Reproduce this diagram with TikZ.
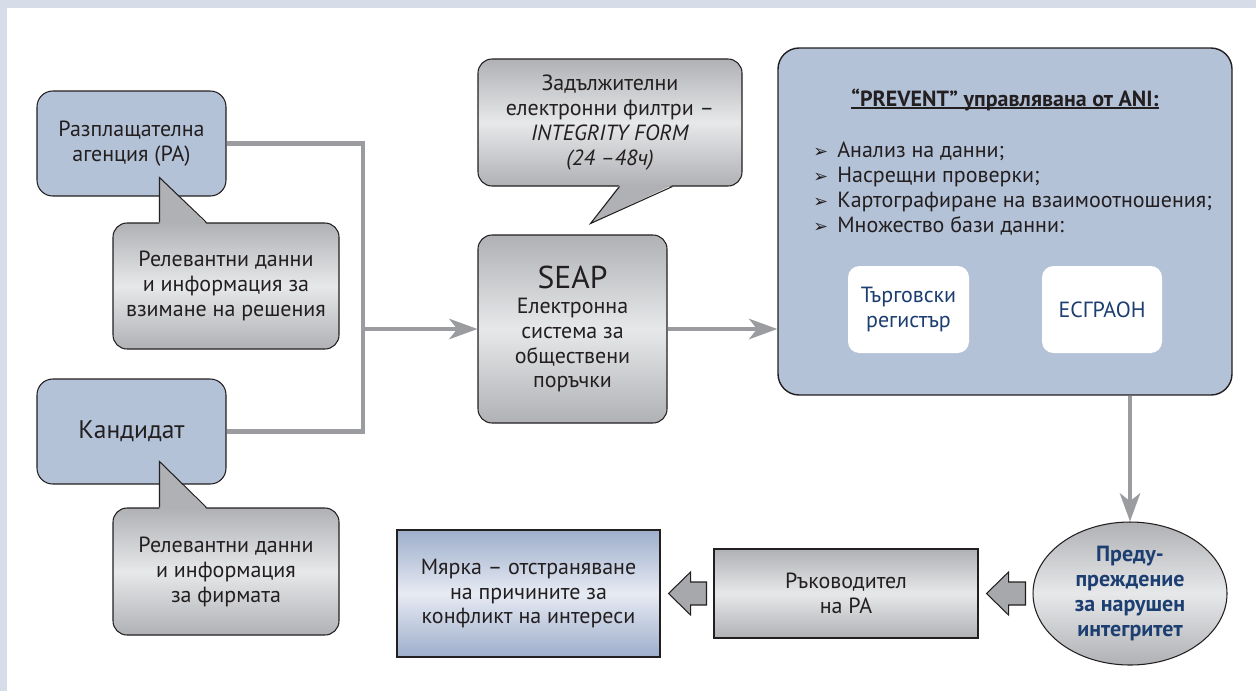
\documentclass[tikz,border=0pt]{standalone}
\usepackage{fontspec}
\setmainfont{PT Sans}
\newfontfamily\symfont{DejaVu Sans}
\usetikzlibrary{arrows.meta,calc,shapes.geometric}
\newlength\pxu
\setlength\pxu{0.02cm}
\newcommand{\fsn}{\fontsize{12.5pt}{14.2pt}\selectfont}
\newcommand{\fsg}{\fontsize{14.5pt}{17pt}\selectfont}
\newcommand{\fss}{\fontsize{18pt}{20pt}\selectfont}
\newcommand{\bul}{{\symfont\fontsize{10pt}{10pt}\selectfont ➢}}
\definecolor{rahmen}{RGB}{214,221,233}
\definecolor{rablau}{RGB}{180,194,216}
\definecolor{rand}{RGB}{35,31,32}
\definecolor{grau1}{RGB}{176,177,180}
\definecolor{grau2}{RGB}{231,232,234}
\definecolor{blau1}{RGB}{158,174,203}
\definecolor{blau2}{RGB}{230,234,243}
\definecolor{linie}{RGB}{155,156,160}
\definecolor{pfeil}{RGB}{167,168,171}
\definecolor{dunkelblau}{RGB}{28,62,112}
\tikzset{
  kasten/.style = {align=center, inner sep=0pt, text centered,
    font=\fsn, text=rand},
  kasten_b/.style = {kasten, rectangle, rounded corners=9pt, fill=rablau,
    draw=rand, line width=0.6pt},% blau, abgerundet
  kasten_g/.style = {kasten, rectangle, rounded corners=8pt, draw=rand,
    line width=0.6pt, top color=grau1, bottom color=grau1, middle color=grau2},% grau, abgerundet
  kasten_gs/.style = {kasten, rectangle, draw=rand, line width=0.6pt,
    top color=grau1, bottom color=grau1, middle color=grau2},% grau, eckig
  kasten_bs/.style = {kasten, rectangle, draw=rand, line width=0.6pt,
    top color=blau1, bottom color=blau1, middle color=blau2},% blau, eckig
  kasten_w/.style = {kasten, rectangle, rounded corners=6.5pt, fill=white,
    text=dunkelblau},% weiss, ohne rand
  kasten_e/.style = {kasten, ellipse, draw=rand, line width=0.6pt,
    top color=grau1, bottom color=grau1, middle color=grau2,
    font=\fsn\bfseries, text=dunkelblau},
  punkt/.style = {inner sep=0pt, font=\fsn, text=rand},
  verb/.style = {line width=2.8pt, draw=linie},
  verbpf/.style = {verb, -{Stealth[length=16pt,width=11.5pt,inset=4.5pt]}},
  blockpf/.style = {fill=pfeil, draw=rand, line width=0.6pt},
  zunge/.style = {draw=rand, line width=0.6pt, line join=miter},
}
% Blockpfeil nach links, von #1 nach #2
\newcommand{\blockpfeil}[2]{%
  \draw[blockpf] ($(#2.east)+(8,0)$) -- ++(22,-21.5) -- ++(0,10)
    -- ($(#1.west)+(-7,-11.5)$) -- ++(0,23)
    -- ($(#2.east)+(30,11.5)$) -- ++(0,10) -- cycle;}

\begin{document}
\begin{tikzpicture}[x=0.02cm,y=-0.02cm]
  \useasboundingbox (0,0) rectangle (1256,691);
  \fill[rahmen] (0,0) rectangle (1256,691);
  \fill[white] (7,8) rectangle (1256,691);

  % links
  \node[kasten_b, minimum width=189\pxu, minimum height=105\pxu] (pa) at (131.5,143.5)
    {Разплащателна\\агенция (РА)};
  \node[kasten_g, minimum width=226\pxu, minimum height=126\pxu] (relPA) at (226,286)
    {Релевантни данни\\и информация за\\взимане на решения};
  \node[kasten_b, minimum width=189\pxu, minimum height=105\pxu, font=\fsg] (kand) at (131.5,431.5)
    {Кандидат};
  \node[kasten_g, minimum width=226\pxu, minimum height=127\pxu] (relKand) at (226,571.5)
    {Релевантни данни\\и информация\\за фирмата};

  % mitte
  \node[kasten_g, minimum width=264\pxu, minimum height=127\pxu] (filtri) at (610,122.5)
    {Задължителни\\електронни филтри –\\\textit{INTEGRITY FORM}\\\textit{(24 –48ч)}};
  \node[kasten_g, minimum width=189\pxu, minimum height=188\pxu] (seap) at (572.5,329)
    {{\fss SEAP}\\Електронна\\система за\\обществени\\поръчки};

  % zungen
  \coordinate (z1a) at ($(relPA.north west)+(47,0)$);
  \coordinate (z1t) at ($(relPA.north west)+(47,-45)$);
  \coordinate (z1b) at ($(relPA.north west)+(94,0)$);
  \fill[grau1] ($(z1a)+(0,1.5)$) -- (z1t) -- ($(z1b)+(0,1.5)$) -- cycle;
  \draw[zunge] (z1a) -- (z1t) -- (z1b);
  \coordinate (z2a) at ($(relKand.north west)+(47,0)$);
  \coordinate (z2t) at ($(relKand.north west)+(47,-46)$);
  \coordinate (z2b) at ($(relKand.north west)+(94,0)$);
  \fill[grau1] ($(z2a)+(0,1.5)$) -- (z2t) -- ($(z2b)+(0,1.5)$) -- cycle;
  \draw[zunge] (z2a) -- (z2t) -- (z2b);
  \coordinate (z3a) at ($(filtri.south west)+(142,0)$);
  \coordinate (z3t) at ($(filtri.south west)+(113,37)$);
  \coordinate (z3b) at ($(filtri.south west)+(195,0)$);
  \fill[grau1] ($(z3a)+(0,-1.5)$) -- (z3t) -- ($(z3b)+(0,-1.5)$) -- cycle;
  \draw[zunge] (z3a) -- (z3t) -- (z3b);

  % PREVENT
  \node[kasten_b, rounded corners=12pt, line width=0.8pt, minimum width=454\pxu, minimum height=347\pxu] (prevent) at (1005,221.5) {};
  \node[punkt, font=\fsn\bfseries, anchor=base] (titel) at (1005,106)
    {“PREVENT” управлявана от ANI:};
  \draw[rand, line width=0.6pt] ($(titel.base west)+(0,2)$) -- ($(titel.base east)+(0,2)$);
  \foreach \t [count=\i] in {Анализ на данни;, Насрещни проверки;,
      Картографиране на взаимоотношения;, Множество бази данни:}
    \node[punkt, anchor=base west] (liste\i) at (813,{132+25*\i})
      {\makebox[24\pxu][l]{\bul}\t};
  \node[kasten_w, minimum width=121\pxu, minimum height=87\pxu] (treg) at (908.5,309.5)
    {Търговски\\регистър};
  \node[kasten_w, minimum width=120\pxu, minimum height=87\pxu] (esg) at (1102,309.5)
    {ЕСГРАОН};

  % unten
  \node[kasten_e, minimum width=194\pxu, minimum height=143\pxu] (warn) at (1130,593.5)
    {Преду-\\преждение\\за нарушен\\интегритет};
  \node[kasten_gs, minimum width=264\pxu, minimum height=89\pxu] (ruk) at (846,593.5)
    {Ръководител\\на РА};
  \node[kasten_bs, minimum width=263\pxu, minimum height=127\pxu] (mjarka) at (528.5,593.5)
    {Мярка – отстраняване\\на причините за\\конфликт на интереси};

  % verbindungen
  \coordinate (knoten) at (363,329);
  \draw[verb] (pa.east) -| (knoten) |- (kand.east);
  \draw[verbpf] (knoten) -- (seap.west);
  \draw[verbpf] (seap.east) -- (seap.east -| prevent.west);
  \draw[verbpf] (warn.north |- prevent.south) -- (warn.north);
  \blockpfeil{warn}{ruk}
  \blockpfeil{ruk}{mjarka}
\end{tikzpicture}
\end{document}
